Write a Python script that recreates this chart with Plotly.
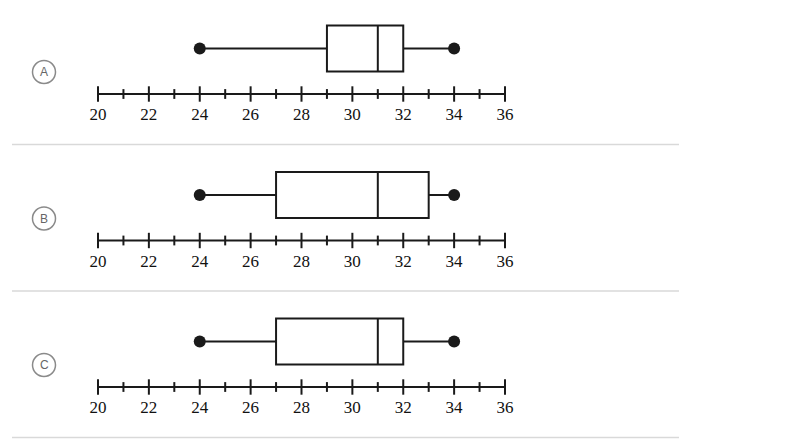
import plotly.graph_objects as go

# ---- data ----
options = ["A", "B", "C"]
minimum = [24, 24, 24]
q1 = [29, 27, 27]
median = [31, 31, 31]
q3 = [32, 33, 32]
maximum = [34, 34, 34]
axis_min, axis_max = 20, 36
tick_values = list(range(axis_min, axis_max + 1))
label_values = list(range(axis_min, axis_max + 1, 2))
tick_labels = [str(v) for v in label_values]

# ---- layout constants (pixels) ----
W, H = 793, 444
PANEL_H = 146.5
BOX_Y = 48.5      # box center within panel
AXIS_Y = 94       # number line within panel
LABEL_Y = 116     # tick labels within panel
X0_PX, X1_PX = 98, 505
INK = "#1a1a1a"

fig = go.Figure()
layout = {}
shapes = []
annotations = []

for i, name in enumerate(options):
    k = "" if i == 0 else str(i + 1)
    xa, ya = "x" + k, "y" + k
    off = PANEL_H * i
    layout["xaxis" + k] = dict(domain=[X0_PX / W, X1_PX / W], range=[axis_min, axis_max],
                                visible=False, fixedrange=True)
    layout["yaxis" + k] = dict(domain=[1 - (off + PANEL_H) / H, 1 - off / H],
                                range=[PANEL_H, 0], visible=False, fixedrange=True)

    # box plot
    fig.add_trace(go.Box(
        orientation="h", y=[BOX_Y], q1=[q1[i]], median=[median[i]], q3=[q3[i]],
        lowerfence=[minimum[i]], upperfence=[maximum[i]], width=46, whiskerwidth=0,
        fillcolor="white", line=dict(color=INK, width=2), boxpoints=False,
        xaxis=xa, yaxis=ya, showlegend=False, hoverinfo="skip"))
    # endpoint dots
    fig.add_trace(go.Scatter(
        x=[minimum[i], maximum[i]], y=[BOX_Y, BOX_Y], mode="markers",
        marker=dict(color=INK, size=12), xaxis=xa, yaxis=ya, showlegend=False,
        cliponaxis=False, hoverinfo="skip"))
    # number line
    fig.add_trace(go.Scatter(
        x=[axis_min, axis_max], y=[AXIS_Y, AXIS_Y], mode="lines",
        line=dict(color=INK, width=2), xaxis=xa, yaxis=ya, showlegend=False,
        cliponaxis=False, hoverinfo="skip"))
    minor = [v for v in tick_values if v not in label_values]
    fig.add_trace(go.Scatter(
        x=label_values, y=[AXIS_Y] * len(label_values), mode="markers",
        marker=dict(symbol="line-ns", size=11, line=dict(color=INK, width=2)),
        xaxis=xa, yaxis=ya, showlegend=False, cliponaxis=False, hoverinfo="skip"))
    fig.add_trace(go.Scatter(
        x=minor, y=[AXIS_Y] * len(minor), mode="markers",
        marker=dict(symbol="line-ns", size=7, line=dict(color=INK, width=2)),
        xaxis=xa, yaxis=ya, showlegend=False, cliponaxis=False, hoverinfo="skip"))
    fig.add_trace(go.Scatter(
        x=label_values, y=[LABEL_Y] * len(label_values), mode="text", text=tick_labels,
        textfont=dict(family="Liberation Serif", size=17, color="#111"),
        xaxis=xa, yaxis=ya, showlegend=False, cliponaxis=False, hoverinfo="skip"))

    # option letter in circle
    cy = off + 72
    shapes.append(dict(type="circle", xref="paper", yref="paper",
                       x0=(44 - 11.5) / W, x1=(44 + 11.5) / W,
                       y0=1 - (cy + 11.5) / H, y1=1 - (cy - 11.5) / H,
                       line=dict(color="#8a8a8a", width=1.5), fillcolor="white"))
    annotations.append(dict(x=44 / W, y=1 - cy / H, xref="paper", yref="paper",
                            xanchor="center", yanchor="middle",
                            text=name, showarrow=False,
                            font=dict(family="Liberation Sans", size=12, color="#666")))
    # separator
    sy = 1 - (off + 144.5) / H
    shapes.append(dict(type="line", xref="paper", yref="paper", x0=12 / W, x1=679 / W,
                       y0=sy, y1=sy, line=dict(color="#d9d9d9", width=1.5)))

fig.update_layout(width=W, height=H, margin=dict(l=0, r=0, t=0, b=0),
                  paper_bgcolor="white", plot_bgcolor="rgba(0,0,0,0)",
                  shapes=shapes, annotations=annotations, **layout)

fig.write_html("out.html", config={"displayModeBar": False},
               post_script="document.body.style.margin='0';document.body.style.padding='0';")
